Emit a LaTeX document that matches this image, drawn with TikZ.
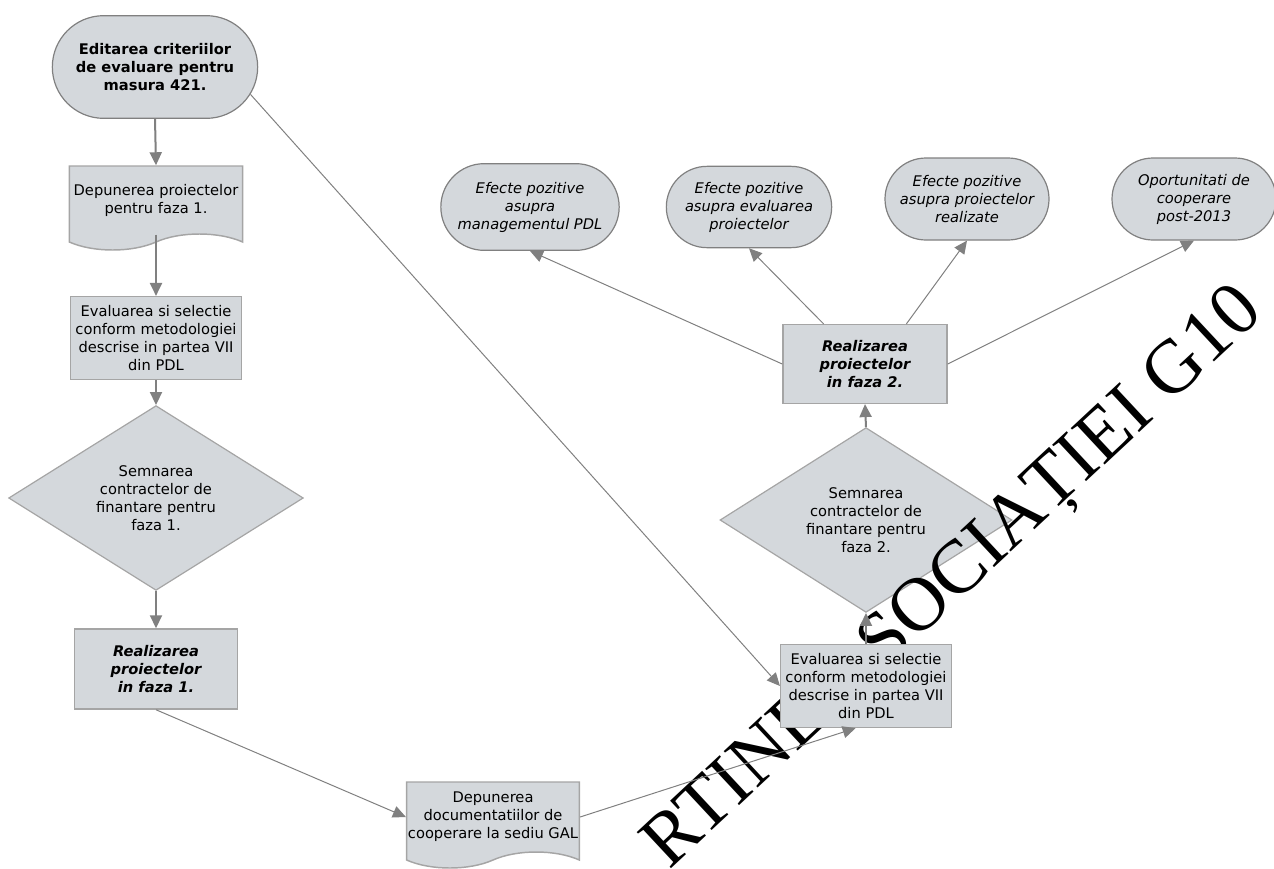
\documentclass[tikz,border=0pt]{standalone}
\usepackage{fontspec}
\setmainfont{DejaVu Sans}
\newfontfamily\wmfont{Liberation Serif}
\usetikzlibrary{calc,arrows.meta,shapes.geometric,shapes.misc,shapes.symbols}
\definecolor{boxfill}{RGB}{212,216,220}
\definecolor{boxline}{RGB}{165,165,165}
\definecolor{arrowgray}{RGB}{128,128,128}

\begin{document}
\begin{tikzpicture}[x=0.75pt, y=-0.75pt,
    every node/.style={font=\fontsize{11}{13.5}\selectfont, align=center, inner sep=1pt},
    box/.style={draw=boxline, fill=boxfill, line width=1.1pt},
    term/.style={shape=rounded rectangle, draw=arrowgray, fill=boxfill, line width=0.9pt},
    docbox/.style={shape=tape, tape bend top=none, tape bend bottom=in and out, tape bend height=12pt, draw=boxline, fill=boxfill, line width=1.1pt},
    decision/.style={shape=diamond, draw=boxline, fill=boxfill, line width=0.9pt, inner sep=0pt},
    flow/.style={draw=arrowgray, line width=1.5pt, -{Triangle[length=9.75pt, width=9pt]}},
    link/.style={draw=arrowgray, line width=0.75pt, -{Triangle[length=9.75pt, width=9pt]}}]
    \useasboundingbox (0,0) rectangle (1274,868);
    % phase 1 column
    \node[term, minimum width=156pt, minimum height=77pt, font=\fontsize{11}{13.5}\selectfont\bfseries] (T) at (155,67) {Editarea criteriilor\\de evaluare pentru\\masura 421.};
    \node[docbox, minimum width=130pt, minimum height=63pt] (D1) at (156,200) {Depunerea proiectelor\\pentru faza 1.};
    \node[box, minimum width=128pt, minimum height=62pt] (E1v) at (156,338) {Evaluarea si selectie\\conform metodologiei\\descrise in partea VII\\din PDL};
    \node[decision, minimum width=221pt, minimum height=106.5pt] (Dia1) at (156,498) {Semnarea\\contractelor de\\finantare pentru\\faza 1.};
    \node[box, minimum width=122pt, minimum height=60pt, font=\fontsize{11}{13.5}\selectfont\bfseries\itshape] (R1) at (156,669) {Realizarea\\proiectelor\\in faza 1.};
    % cooperation
    \node[docbox, minimum width=120pt, minimum height=64.5pt] (D2) at (493,817) {Depunerea\\documentatiilor de\\cooperare la sediu GAL};
    % phase 2 column
    \node[decision, minimum width=219pt, minimum height=106.5pt] (Dia2) at (866,520) {Semnarea\\contractelor de\\finantare pentru\\faza 2.};
    \node[box, minimum width=123pt, minimum height=59pt, font=\fontsize{11}{13.5}\selectfont\bfseries\itshape] (R2) at (865,364) {Realizarea\\proiectelor\\in faza 2.};
    % effects
    \node[term, minimum width=135.75pt, minimum height=65pt, font=\fontsize{11}{13.5}\selectfont\itshape] (P1) at (530,207) {Efecte pozitive\\asupra\\managementul PDL};
    \node[term, minimum width=126pt, minimum height=61pt, font=\fontsize{11}{13.5}\selectfont\itshape] (P2) at (749,207) {Efecte pozitive\\asupra evaluarea\\proiectelor};
    \node[term, minimum width=125pt, minimum height=61.5pt, font=\fontsize{11}{13.5}\selectfont\itshape] (P3) at (967,199) {Efecte pozitive\\asupra proiectelor\\realizate};
    \node[term, minimum width=125pt, minimum height=61.5pt, font=\fontsize{11}{13.5}\selectfont\itshape] (P4) at (1194,199) {Oportunitati de\\cooperare\\post-2013};
    % watermark
    \node[rotate=43, inner sep=0pt, font=\wmfont\fontsize{57}{57}\selectfont] (WM) at (956,580) {RTINE ASOCIAȚIEI G10};
    \node[box, minimum width=128pt, minimum height=62pt] (E2v) at (866,686) {Evaluarea si selectie\\conform metodologiei\\descrise in partea VII\\din PDL};
    % connectors
    \coordinate (E2in) at ($(E2v.south west)!0.44!(E2v.south east)$);
    \coordinate (R2a) at ($(R2.north west)!0.25!(R2.north east)$);
    \coordinate (R2b) at ($(R2.north west)!0.75!(R2.north east)$);
    \path[flow] (T.south) -- (D1.north);
    \path[flow] (D1.south) -- (E1v.north);
    \path[flow] (E1v.south) -- (Dia1.north);
    \path[flow] (Dia1.south) -- (R1.north);
    \path[link] (R1.south) -- (D2.west);
    \path[link] (D2.east) -- (E2in);
    \path[link] (T.-16) -- (E2v.west);
    \path[flow] (E2v.north) -- (Dia2.south);
    \path[flow] (Dia2.north) -- (R2.south);
    \path[link] (R2.west) -- (P1.south);
    \path[link] (R2a) -- (P2.south);
    \path[link] (R2b) -- (P3.south);
    \path[link] (R2.east) -- (P4.south);
\end{tikzpicture}
\end{document}
